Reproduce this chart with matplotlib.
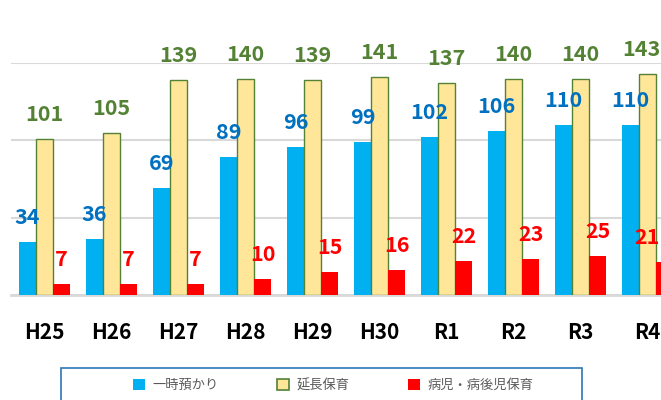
import numpy as np
import matplotlib
matplotlib.use('Agg')
import matplotlib.pyplot as plt
from matplotlib.patches import Patch, Rectangle

plt.rcParams['font.family'] = ['Noto Sans CJK JP', 'DejaVu Sans']

# Data
years = ['H25', 'H26', 'H27', 'H28', 'H29', 'H30', 'R1', 'R2', 'R3', 'R4']
ichiji = [34, 36, 69, 89, 96, 99, 102, 106, 110, 110]     # 一時預かり
encho = [101, 105, 139, 140, 139, 141, 137, 140, 140, 143]  # 延長保育
byoji = [7, 7, 7, 10, 15, 16, 22, 23, 25, 21]              # 病児・病後児保育
names = ['一時預かり', '延長保育', '病児・病後児保育']

# Colours
c_blue, c_yellow, c_red = '#00B0F0', '#FFE699', '#FF0000'
c_green = '#548235'
lbl_colors = ['#0070C0', c_green, c_red]

W, H = 661, 400
fig = plt.figure(figsize=(W / 100, H / 100), dpi=100)
# plot area runs past the right edge (chart is cropped)
ax = fig.add_axes([11 / W, 1 - 294.7 / H, 670 / W, (294.7 - 63.3) / H])

x = np.arange(len(years))
w = 0.254
series = [ichiji, encho, byoji]
labels = []
for k, (vals, fc) in enumerate(zip(series, [c_blue, c_yellow, c_red])):
    pos = x + (k - 1) * w
    if k == 1:
        ax.bar(pos, vals, w, color=fc, edgecolor=c_green, linewidth=1.0, zorder=3)
    else:
        ax.bar(pos, vals, w, color=fc, linewidth=0, zorder=3)
    for px, v in zip(pos, vals):
        a = ax.annotate(str(v), (px, v), xytext=(0, 13), textcoords='offset points',
                        ha='center', va='baseline', fontsize=15.5, fontweight='bold',
                        color=lbl_colors[k], zorder=10)
        labels.append(a)

ax.set_xlim(-0.5, len(years) - 0.5)
ax.set_ylim(0, 150)
ax.set_yticks([0, 50, 100, 150])
ax.yaxis.grid(True, color='#D9D9D9', linewidth=1.5, zorder=0)
ax.set_axisbelow(True)
ax.tick_params(axis='y', left=False, labelleft=False)
ax.set_xticks(x)
ax.set_xticklabels(years, fontsize=15, fontweight='bold', color='black')
ax.tick_params(axis='x', length=0, pad=20)
for s in ['top', 'right', 'left']:
    ax.spines[s].set_visible(False)
ax.spines['bottom'].set_color('#D9D9D9')
ax.spines['bottom'].set_linewidth(2)

# Legend
handles = [Patch(facecolor=c_blue, edgecolor='none'),
           Patch(facecolor=c_yellow, edgecolor=c_green, linewidth=1.2),
           Patch(facecolor=c_red, edgecolor='none')]
leg = fig.legend(handles, names, loc='center left', bbox_to_anchor=(133 / W, 1 - 385.7 / H),
                 ncol=3, frameon=False, fontsize=9.5, borderpad=0, borderaxespad=0,
                 handlelength=0.9, handleheight=0.9, handletextpad=0.6, columnspacing=4.4)
for t in leg.get_texts():
    t.set_color('#595959')

frame = Rectangle((61 / W, -0.05), (582 - 61) / W, 0.05 + 1 - 368 / H,
                  transform=fig.transFigure, facecolor='none', edgecolor='#2E75B6',
                  linewidth=1.2, clip_on=False)
fig.add_artist(frame)

# like Excel, pull labels back inside the visible area at the right edge
fig.canvas.draw()
r = fig.canvas.get_renderer()
for a in labels:
    bb = a.get_window_extent(r)
    if bb.x1 > W - 1:
        a.set_position((-(bb.x1 - W + 1) * 72 / 100, 13))

fig.savefig('out.png', dpi=100)
